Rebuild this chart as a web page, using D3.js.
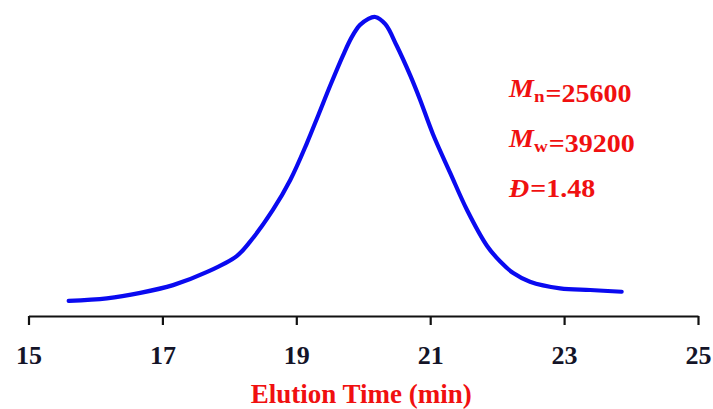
<!DOCTYPE html>
<html>
<head>
<meta charset="utf-8">
<script src="https://d3js.org/d3.v7.min.js"></script>
<style>
  body { margin: 0; background: #fff; }
  svg text { font-family: "Liberation Serif", "Times New Roman", serif; font-weight: bold; }
</style>
</head>
<body>
<svg width="713" height="409"></svg>
<script>
// GPC trace (elution time in min, normalised detector signal)
var times = [15.60, 16.17, 16.67, 17.16, 17.66, 18.11, 18.31, 18.65, 18.91, 19.16, 19.33, 19.51, 19.70, 19.83, 19.95,
             20.07, 20.18, 20.33, 20.50, 20.70, 20.85, 21.04, 21.30, 21.55, 21.85, 22.05, 22.24, 22.49, 22.94, 23.39, 23.86];
var signal = [0.014, 0.023, 0.042, 0.069, 0.114, 0.170, 0.220, 0.330, 0.434, 0.563, 0.660, 0.764, 0.868, 0.931, 0.972,
              0.993, 1.000, 0.975, 0.900, 0.798, 0.712, 0.594, 0.458, 0.330, 0.205, 0.150, 0.111, 0.081, 0.058, 0.052, 0.046];
var xTicks = [15, 17, 19, 21, 23, 25];
var resultLabels = ["n", "w", "Đ"];
var resultValues = ["25600", "39200", "1.48"];

var svg = d3.select("svg");
var x = d3.scaleLinear().domain([15, 25]).range([28.5, 698]);
var y = d3.scaleLinear().domain([0, 1]).range([305, 17]);
var axisY = 316;

var axis = svg.append("g")
  .attr("transform", "translate(0," + axisY + ")")
  .call(d3.axisBottom(x).tickValues(xTicks).tickSize(9).tickPadding(31).tickSizeOuter(0));
axis.select(".domain").attr("stroke", "#111").attr("stroke-width", 2.2);
axis.selectAll(".tick line").attr("stroke", "#111").attr("stroke-width", 2.2);
axis.selectAll(".tick text")
  .attr("font-size", 26).attr("font-family", "Liberation Serif").attr("font-weight", "bold")
  .attr("fill", "#141428").attr("dy", "0.3em");

svg.append("text")
  .attr("x", x(20) - 2).attr("y", 403)
  .attr("text-anchor", "middle")
  .attr("font-size", 27).attr("fill", "#f01010")
  .text("Elution Time (min)");

var pts = times.map(function(t, i) { return [t, signal[i]]; });
svg.append("path")
  .datum(pts)
  .attr("fill", "none")
  .attr("stroke", "#0a0af0")
  .attr("stroke-width", 4.2)
  .attr("stroke-linecap", "round")
  .attr("d", d3.line().curve(d3.curveCatmullRom).x(function(d) { return x(d[0]); }).y(function(d) { return y(d[1]); }));

var res = svg.append("g").attr("fill", "#f01010").attr("font-size", 25)
  .attr("transform", "translate(509,0) scale(1.12,1)");
resultLabels.forEach(function(lab, i) {
  var t = res.append("text").attr("x", 0).attr("y", 97 + i * 50);
  if (lab === "Đ") {
    t.append("tspan").attr("font-style", "italic").text("Đ");
  } else {
    t.append("tspan").attr("font-style", "italic").text("M");
    t.append("tspan").attr("font-size", 17).attr("dy", 5).text(lab);
    t.append("tspan").attr("dy", -5).text("");
  }
  t.append("tspan").attr("dx", 1).text("=" + resultValues[i]);
});
</script>
</body>
</html>
